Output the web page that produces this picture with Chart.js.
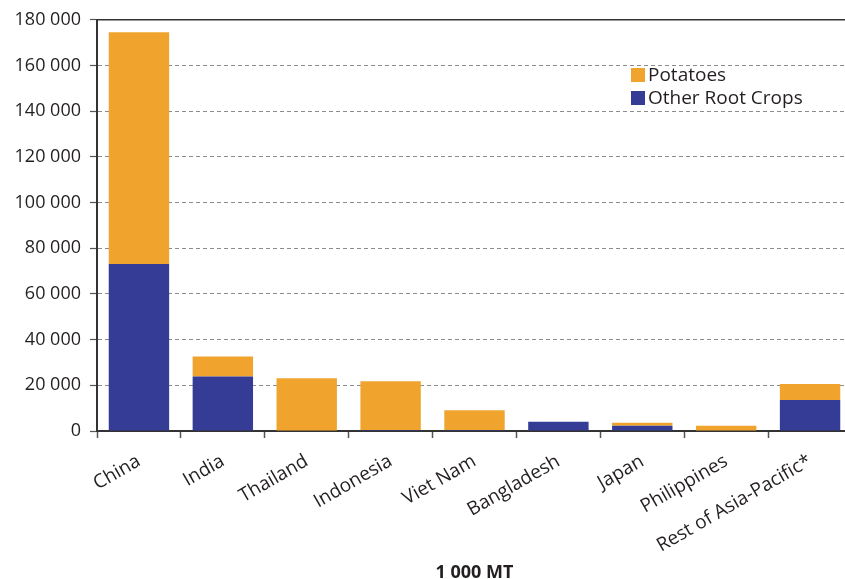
<!DOCTYPE html>
<html>
<head>
<meta charset="utf-8">
<script src="https://cdn.jsdelivr.net/npm/chart.js@4/dist/chart.umd.min.js"></script>
<style>
  html, body { margin: 0; padding: 0; background: #fff; overflow: hidden; }
  #wrap { width: 852px; height: 579px; }
</style>
</head>
<body>
<div id="wrap"><canvas id="c" width="852" height="579"></canvas></div>
<script>
// Root crop production in Asia-Pacific, thousand metric tonnes
const countries = ['China', 'India', 'Thailand', 'Indonesia', 'Viet Nam', 'Bangladesh', 'Japan', 'Philippines', 'Rest of Asia-Pacific*'];
const otherRootCrops = [73100, 23900, 0, 400, 400, 4000, 2300, 0, 13600];
const potatoes = [101400, 8700, 23100, 21400, 8700, 0, 1300, 2300, 7000];
const yTicks = [0, 20000, 40000, 60000, 80000, 100000, 120000, 140000, 160000, 180000];

const ORANGE = '#F0A42E';
const BLUE = '#343C95';
const FONT = '"Open Sans", "DejaVu Sans", sans-serif';

const fmt = v => String(v).replace(/\B(?=(\d{3})+(?!\d))/g, ' ');

// Legend drawn inside the plot area, potatoes listed first
const insideLegend = {
  id: 'insideLegend',
  afterDraw(chart) {
    const ctx = chart.ctx;
    const items = chart.data.datasets.slice().reverse();
    ctx.save();
    ctx.font = '19px ' + FONT;
    ctx.textBaseline = 'middle';
    items.forEach((ds, i) => {
      const y = 75 + i * 23;
      ctx.fillStyle = ds.backgroundColor;
      ctx.fillRect(631, y - 7, 14, 14);
      ctx.fillStyle = '#231F20';
      ctx.fillText(ds.label, 648, y + 1);
    });
    ctx.restore();
  }
};

// Solid frame line along the top of the plot
const topFrame = {
  id: 'topFrame',
  afterDatasetsDraw(chart) {
    const { ctx, chartArea } = chart;
    ctx.save();
    ctx.strokeStyle = '#333';
    ctx.lineWidth = 1.5;
    ctx.beginPath();
    ctx.moveTo(chartArea.left, chartArea.top);
    ctx.lineTo(chartArea.right, chartArea.top);
    ctx.stroke();
    ctx.restore();
  }
};

new Chart(document.getElementById('c'), {
  type: 'bar',
  data: {
    labels: countries,
    datasets: [
      { label: 'Other Root Crops', data: otherRootCrops, backgroundColor: BLUE },
      { label: 'Potatoes', data: potatoes, backgroundColor: ORANGE }
    ]
  },
  options: {
    responsive: false,
    animation: false,
    events: [],
    layout: { padding: { top: 17, left: 0, right: 0, bottom: 0 } },
    datasets: { bar: { barPercentage: 0.72, categoryPercentage: 1.0 } },
    plugins: { legend: { display: false }, tooltip: { enabled: false } },
    scales: {
      x: {
        stacked: true,
        grid: { drawOnChartArea: false, drawTicks: true, tickLength: 7, tickColor: '#555', tickWidth: 1.5, offset: true },
        border: { display: true, color: '#333', width: 2 },
        ticks: {
          minRotation: 30, maxRotation: 30, autoSkip: false, padding: 12,
          color: '#231F20', font: { family: FONT, size: 19 }
        },
        title: {
          display: true, text: '1 000 MT', color: '#231F20',
          font: { family: FONT, size: 18, weight: 'bold' }, padding: { top: 0, bottom: -5 }
        },
        afterFit(scale) { scale.height = 148; }
      },
      y: {
        stacked: true,
        min: 0, max: 180000,
        afterBuildTicks(scale) { scale.ticks = yTicks.map(v => ({ value: v })); },
        grid: {
          color: ctx => (ctx.tick && (ctx.tick.value === 0 || ctx.tick.value === 180000)) ? 'rgba(0,0,0,0)' : '#8c8c8c',
          lineWidth: 1, tickLength: 7, tickColor: '#555', tickWidth: 1.2
        },
        border: { display: true, color: '#333', width: 2, dash: [4, 3] },
        ticks: {
          padding: 9, color: '#231F20', font: { family: FONT, size: 18 },
          callback: v => fmt(v)
        },
        afterFit(scale) { scale.width = 97; }
      }
    }
  },
  plugins: [insideLegend, topFrame]
});
</script>
</body>
</html>
